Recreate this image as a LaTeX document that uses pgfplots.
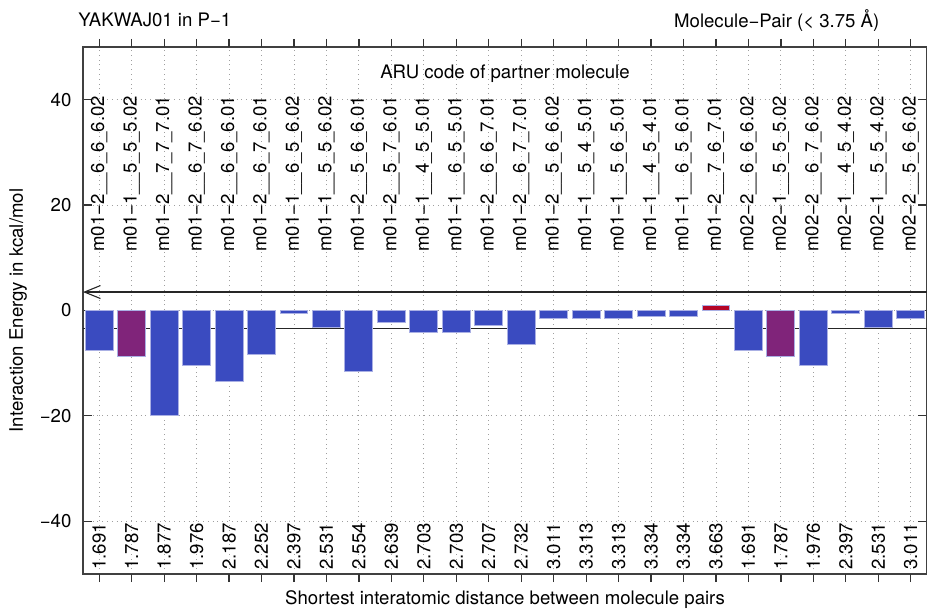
\documentclass[border=0pt]{standalone}
\usepackage{pgfplots}
\pgfplotsset{compat=1.18}
\usepackage{fontspec}
\setmainfont{TeX Gyre Heros}
\usetikzlibrary{arrows.meta}
\definecolor{cblue}{RGB}{58,75,192}
\definecolor{cpurple}{RGB}{128,36,122}
\definecolor{cred}{RGB}{180,4,38}
\definecolor{cedge}{RGB}{170,176,228}
\newcommand{\tl}[2]{\node[rotate=90,anchor=east,inner sep=0pt] at (axis cs:#1,40.8) {#2};}
\newcommand{\bl}[2]{\node[rotate=90,anchor=east,inner sep=0pt] at (axis cs:#1,-40.25) {#2};}
\begin{document}
\fontsize{9.3}{11}\selectfont
\begin{tikzpicture}
\begin{axis}[
  at={(0,0)}, anchor=south west,
  scale only axis, width=422pt, height=263.5pt,
  xmin=-0.5, xmax=25.5, ymin=-50, ymax=50,
  xtick={0,...,25}, xticklabels={}, xtick style={draw=none},
  ytick={-40,-20,0,20,40}, yticklabels={−40,−20,0,20,40},
  yticklabel style={xshift=-2.5pt},
  tick align=inside, major tick length=4.5pt,
  ytick style={line width=0.6pt, black!80},
  grid=major, grid style={dotted, gray!75, line width=0.45pt},
  axis line style={line width=0.8pt, black!75},
  clip=false,
  ylabel={Interaction Energy in kcal/mol},
  ylabel style={at={(axis description cs:-0.077,0.5)}, anchor=center},
  xlabel={Shortest interatomic distance between molecule pairs},
  xlabel style={at={(axis description cs:0.5,-0.049)}, anchor=center},
]
\addplot[black!85, line width=0.55pt, {Straight Barb[length=8pt,width=6.5pt]}-] coordinates {(-0.5,3.5) (25.5,3.5)};
\addplot[black!85, line width=0.55pt] coordinates {(-0.5,-3.5) (25.5,-3.5)};
\addplot[ybar, bar width=0.86, bar shift=0pt, fill=cblue, draw=cedge, line width=0.5pt] coordinates {
(0,-7.65) (2,-19.9) (3,-10.4) (4,-13.5) (5,-8.3) (6,-0.63) (7,-3.2) (8,-11.6) (9,-2.2) (10,-4.2) (11,-4.2) (12,-2.9) (13,-6.4) (14,-1.45) (15,-1.55) (16,-1.55) (17,-1.1) (18,-1.1) (20,-7.65) (22,-10.4) (23,-0.63) (24,-3.2) (25,-1.45)};
\addplot[ybar, bar width=0.86, bar shift=0pt, fill=cpurple, draw=cedge, line width=0.5pt] coordinates {(1,-8.66) (21,-8.66)};
\addplot[ybar, bar width=0.86, bar shift=0pt, fill=cred, draw=cedge, line width=0.5pt] coordinates {(19,1.0)};
\node at (axis cs:12.5,45) {ARU code of partner molecule};
\node[anchor=west,inner sep=0pt] at (axis description cs:-0.006,1.051) {YAKWAJ01 in P−1};
\node[anchor=east,inner sep=0pt] at (axis description cs:0.944,1.051) {Molecule−Pair (< 3.75 Å)};
\tl{0}{m01−2\_\_6\_6\_6.02}
\tl{1}{m01−1\_\_5\_5\_5.02}
\tl{2}{m01−2\_\_7\_7\_7.01}
\tl{3}{m01−2\_\_6\_7\_6.02}
\tl{4}{m01−2\_\_6\_6\_6.01}
\tl{5}{m01−2\_\_6\_7\_6.01}
\tl{6}{m01−1\_\_6\_5\_6.02}
\tl{7}{m01−1\_\_5\_5\_6.02}
\tl{8}{m01−2\_\_5\_6\_6.01}
\tl{9}{m01−2\_\_5\_7\_6.01}
\tl{10}{m01−1\_\_4\_5\_5.01}
\tl{11}{m01−1\_\_6\_5\_5.01}
\tl{12}{m01−2\_\_6\_6\_7.01}
\tl{13}{m01−2\_\_6\_7\_7.01}
\tl{14}{m01−2\_\_5\_6\_6.02}
\tl{15}{m01−1\_\_5\_4\_5.01}
\tl{16}{m01−1\_\_5\_6\_5.01}
\tl{17}{m01−1\_\_4\_5\_4.01}
\tl{18}{m01−1\_\_6\_5\_6.01}
\tl{19}{m01−2\_\_7\_6\_7.01}
\tl{20}{m02−2\_\_6\_6\_6.02}
\tl{21}{m02−1\_\_5\_5\_5.02}
\tl{22}{m02−2\_\_6\_7\_6.02}
\tl{23}{m02−1\_\_4\_5\_4.02}
\tl{24}{m02−1\_\_5\_5\_4.02}
\tl{25}{m02−2\_\_5\_6\_6.02}
\bl{0}{1.691}
\bl{1}{1.787}
\bl{2}{1.877}
\bl{3}{1.976}
\bl{4}{2.187}
\bl{5}{2.252}
\bl{6}{2.397}
\bl{7}{2.531}
\bl{8}{2.554}
\bl{9}{2.639}
\bl{10}{2.703}
\bl{11}{2.703}
\bl{12}{2.707}
\bl{13}{2.732}
\bl{14}{3.011}
\bl{15}{3.313}
\bl{16}{3.313}
\bl{17}{3.334}
\bl{18}{3.334}
\bl{19}{3.663}
\bl{20}{1.691}
\bl{21}{1.787}
\bl{22}{1.976}
\bl{23}{2.397}
\bl{24}{2.531}
\bl{25}{3.011}
\end{axis}
\begin{axis}[
  at={(0,0)}, anchor=south west,
  scale only axis, width=422pt, height=263.5pt,
  xmin=-0.5, xmax=25.5, ymin=-50, ymax=50,
  axis line style={draw=none},
  ytick=\empty, xtick={0,...,25}, xticklabels={},
  tick align=outside, major tick length=4pt,
  xtick style={line width=0.6pt, black!80},
]
\end{axis}
\pgfresetboundingbox
\path[use as bounding box] (-41.5pt,-18.5pt) rectangle (422pt,287pt);
\end{tikzpicture}
\end{document}
